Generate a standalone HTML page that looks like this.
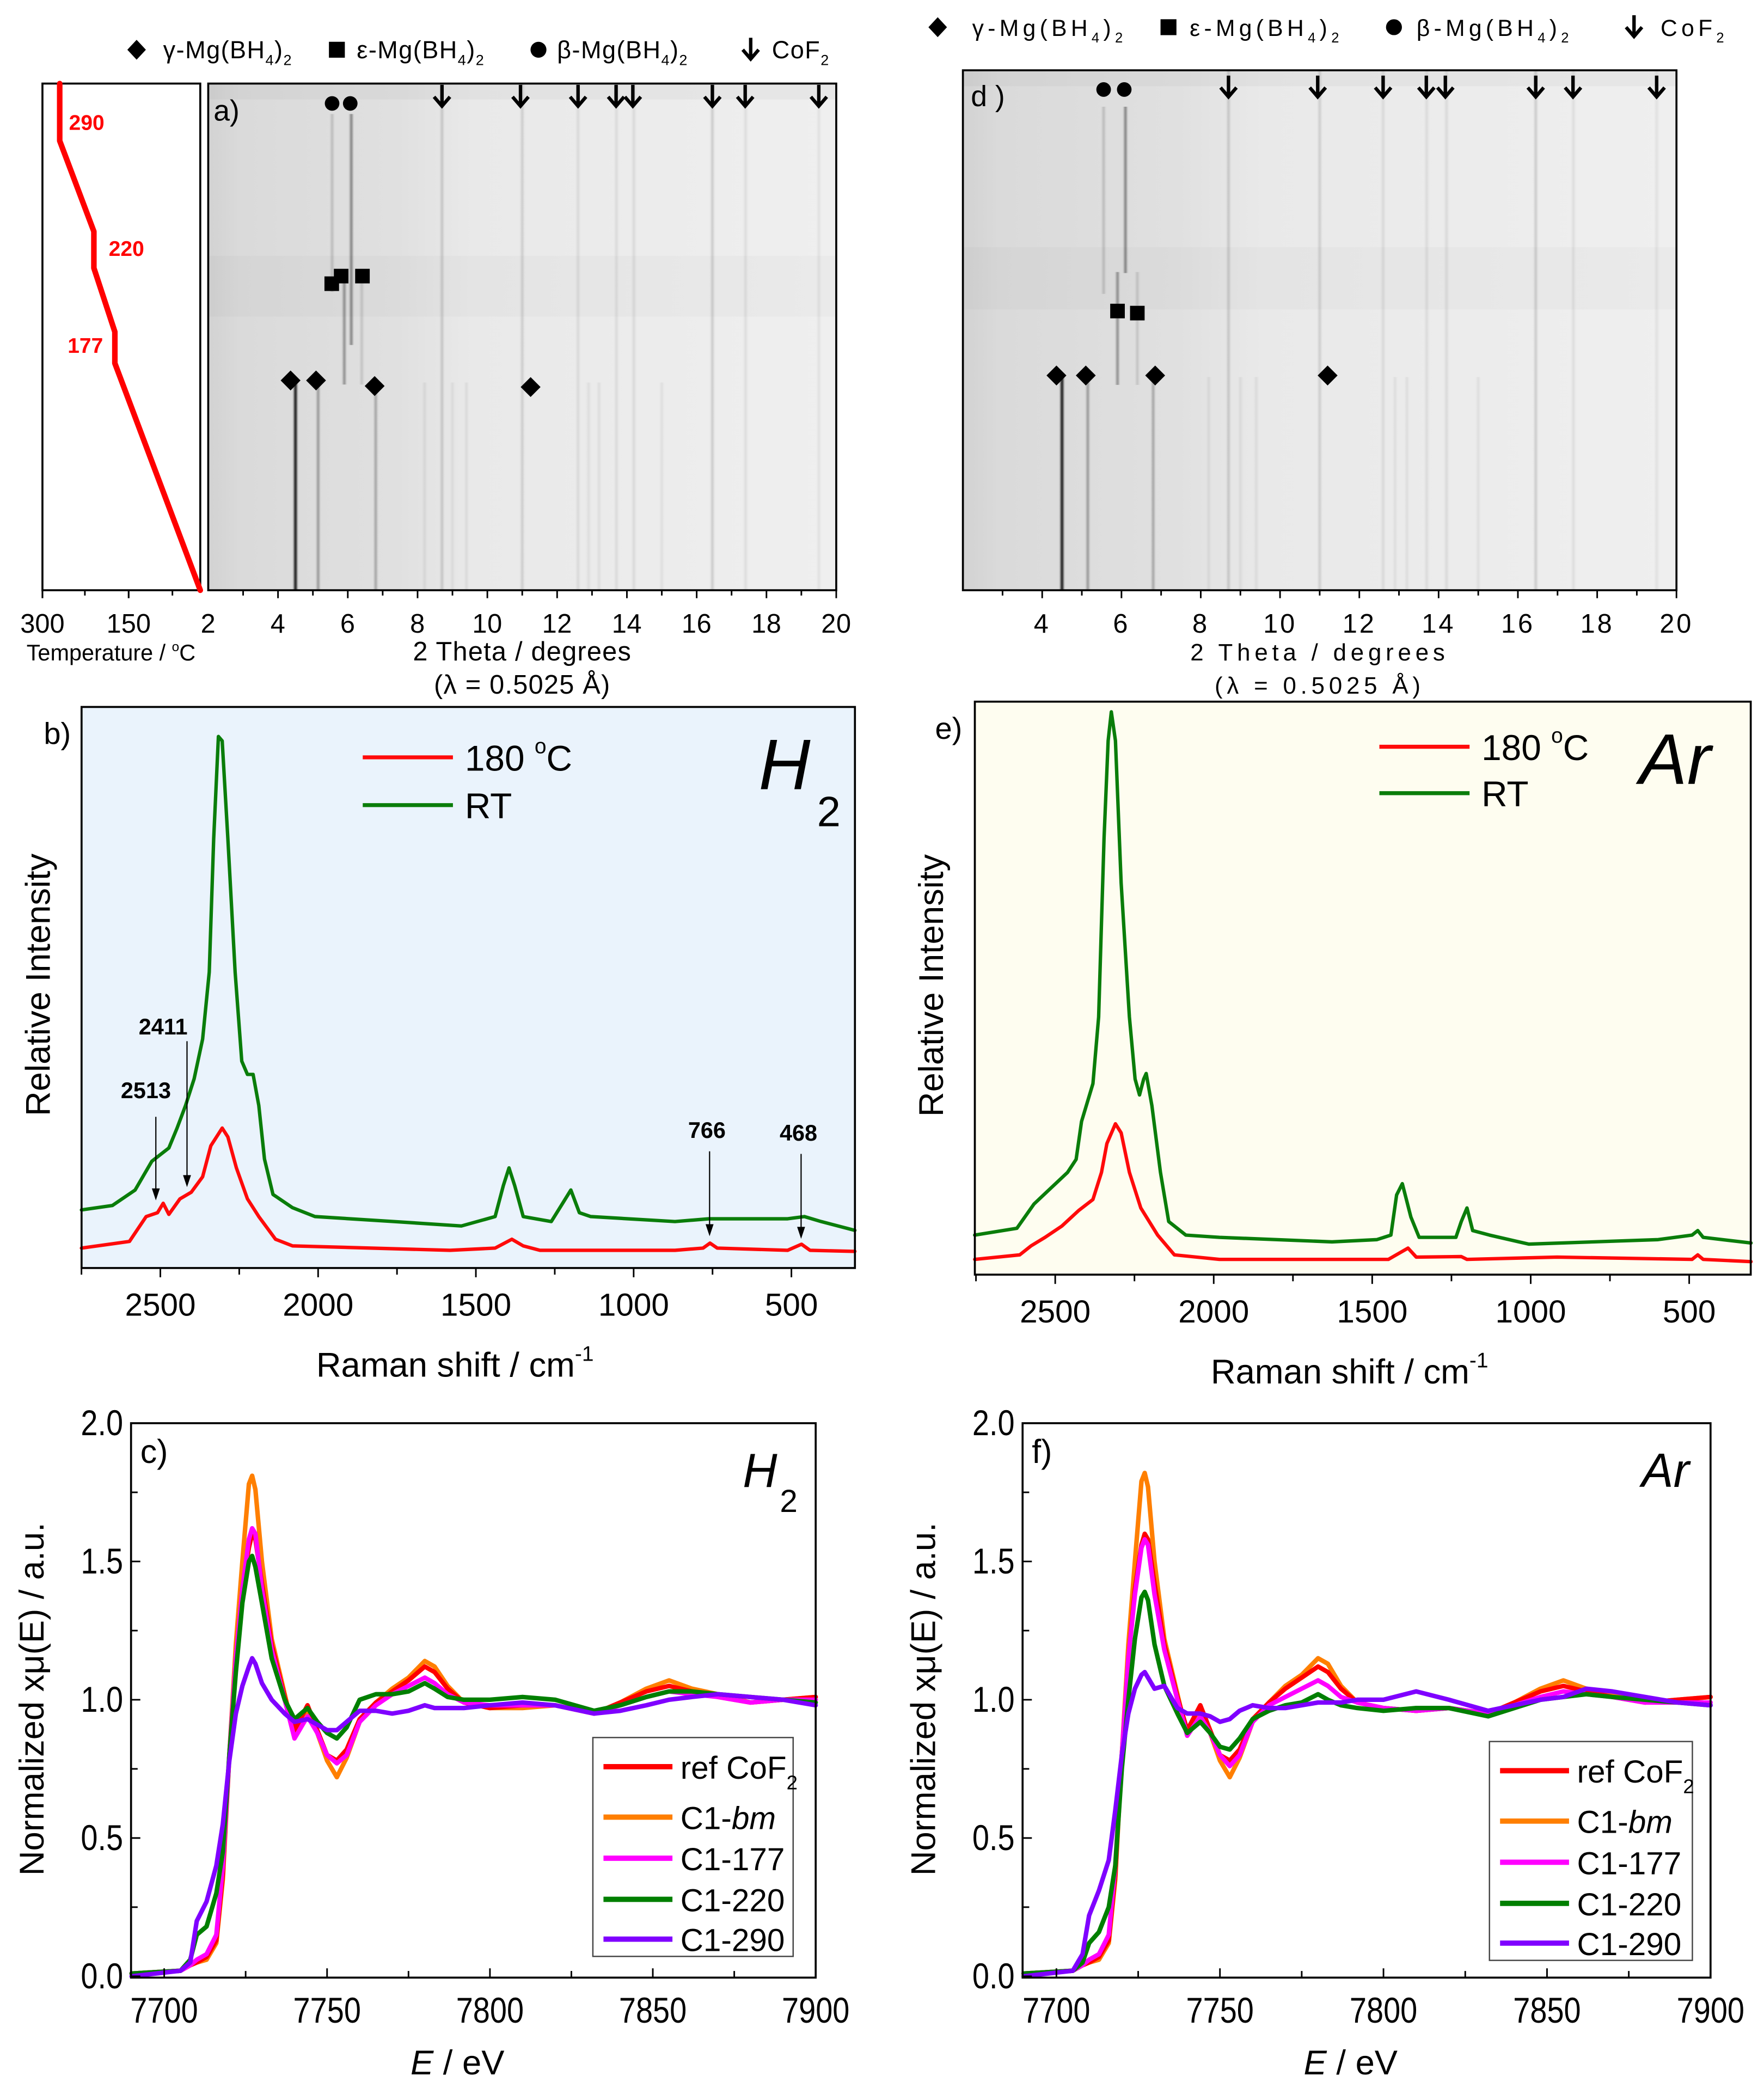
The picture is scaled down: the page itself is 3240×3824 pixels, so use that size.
<!DOCTYPE html>
<html><head><meta charset="utf-8"><style>
html,body{margin:0;padding:0;background:#fff;}
svg{display:block;}
text{font-family:"Liberation Sans",sans-serif;}
</style></head><body>
<svg id="fig" xmlns="http://www.w3.org/2000/svg" width="3240" height="3824" viewBox="0 0 1330 1569.7" preserveAspectRatio="none">
<defs>
<linearGradient id="gA" x1="0" x2="1" y1="0" y2="0"><stop offset="0" stop-color="#d2d2d2"/><stop offset="0.05" stop-color="#dadada"/><stop offset="0.3" stop-color="#e0e0e0"/><stop offset="0.42" stop-color="#e9e9e9"/><stop offset="1" stop-color="#efefef"/></linearGradient>
<filter id="blur" x="-50%" y="-5%" width="200%" height="110%"><feGaussianBlur stdDeviation="0.7 0"/></filter>
</defs>
</svg>
<script>
// ---------- data ----------
const tempHold = [2, 177, 177, 220, 220, 290, 290];
const tempTime = [0, 44.8, 51, 63.6, 70.8, 88.7, 100];
const tempTicks = [300, 150];
const xrdTicksA = [2,4,6,8,10,12,14,16,18,20];
const xrdTicksD = [4,6,8,10,12,14,16,18,20];
const xrdPosA = [4.5, 5.15, 6.8, 5.9, 6.1, 5.55, 6.4, 8.7, 11.0, 12.6, 13.7, 14.2, 16.45, 17.4, 19.5, 8.2, 9.0, 9.4, 12.9, 13.2, 15.0];
const xrdTopA = [41.4, 41.4, 41.4, 62.8, 94, 94, 61.5, 100,100,100,100,100,100,100,100, 41,41,41,41,41,41];
const xrdBotA = [0, 0, 0, 40.6, 48.4, 58.9, 40.6, 0,0,0,0,0,0,0,0, 0,0,0,0,0,0];
const xrdDarkA = [0.85, 0.3, 0.25, 0.35, 0.4, 0.15, 0.12, 0.14,0.12,0.08,0.07,0.08,0.14,0.07,0.06, 0.06,0.06,0.06,0.06,0.06,0.06];
const xrdTopD = [41.3, 41.3, 41.3, 61.2, 93, 93, 61.2, 100,100,100,100,100,100,100,100, 41,41,41,41,41,41];
const xrdBotD = [0, 0, 0, 39.5, 61, 57, 39.5, 0,0,0,0,0,0,0,0, 0,0,0,0,0,0];
const circA = [5.55, 6.07], sqA = [5.54, 5.81, 6.42], sqAy = [60.5, 62, 62], diaA = [4.36, 5.09, 6.77, 11.24], diaAy = [41.4, 41.4, 40.3, 40.1];
const arrows = [8.7, 10.95, 12.6, 13.69, 14.17, 16.45, 17.39, 19.5];
const circD = [5.55, 6.07], sqD = [5.9, 6.4], diaD = [4.36, 5.1, 6.85, 11.2];
const bGreenX = [2750,2652,2580,2527,2473,2447,2420,2393,2366,2345,2331,2316,2304,2286,2263,2242,2224,2206,2188,2170,2143,2081,2010,1760,1546,1439,1413,1395,1377,1350,1261,1225,1199,1172,1136,869,762,512,459,406,299];
const bGreenY = [10.5,11.3,14.1,19.3,21.7,25.3,29.4,34.2,41.4,53.5,77.6,96.1,95.3,77.6,53.5,37.4,35.0,35.0,29.4,19.7,13.3,10.9,9.3,8.4,7.6,9.3,14.9,18.1,14.9,9.3,8.4,11.7,14.1,10.0,9.3,8.4,8.9,8.9,9.3,8.4,6.8];
const bRedX = [2750,2598,2545,2509,2491,2473,2438,2402,2366,2340,2322,2304,2286,2259,2224,2188,2135,2081,1582,1439,1386,1350,1297,869,780,758,735,512,468,441,299];
const bRedY = [3.6,4.8,9.3,10.0,11.7,9.7,12.5,13.7,16.5,22.1,23.7,25.3,23.7,18.1,12.5,9.3,5.2,4.0,3.2,3.6,5.2,4.0,3.2,3.2,3.6,4.5,3.6,3.2,4.3,3.2,3.0];
const eGreenX = [2754,2621,2567,2514,2461,2434,2417,2381,2363,2346,2333,2323,2310,2292,2266,2248,2234,2221,2213,2195,2168,2142,2088,1982,1627,1485,1441,1423,1405,1378,1352,1236,1219,1201,1183,1130,1006,598,491,473,456,305];
const eGreenY = [7.0,8.2,12.5,15.3,18.1,20.4,27.1,33.8,45.6,77.2,94.5,99.6,94.5,69.3,45.6,34.6,31.8,34.6,35.6,29.9,18.1,9.4,7.0,6.6,5.8,6.2,7.0,14.1,16.1,10.2,6.6,6.6,9.4,11.8,7.8,7.0,5.4,6.2,7.0,7.8,6.6,5.6];
const eRedX = [2754,2612,2576,2532,2479,2425,2381,2354,2337,2310,2292,2266,2230,2177,2124,1982,1449,1387,1361,1219,1201,917,491,473,456,305];
const eRedY = [2.7,3.5,5.1,6.6,8.6,11.4,13.3,18.1,23.2,26.7,25.1,18.1,11.8,7.0,3.5,2.7,2.7,4.7,3.1,3.2,2.7,3.1,2.7,3.5,2.7,2.3];
const ramanTicks = [2500, 2000, 1500, 1000, 500];
const xasE = [7690,7705,7708,7710,7713,7716,7718,7720,7722,7724,7726,7727,7728,7730,7733,7737,7740,7744,7747,7750,7753,7756,7760,7765,7770,7775,7780,7783,7787,7792,7800,7810,7820,7832,7840,7848,7855,7862,7870,7880,7890,7900];
const cOrange = [.01,.02,.04,.05,.06,.12,.35,.8,1.2,1.5,1.78,1.81,1.76,1.5,1.22,1.02,.87,.96,.88,.78,.72,.79,.92,.99,1.04,1.08,1.14,1.12,1.05,.99,.97,.97,.98,.95,.99,1.04,1.07,1.04,1.02,.99,1.0,1.01];
const cRed = [.01,.02,.04,.05,.07,.13,.37,.8,1.15,1.4,1.55,1.6,1.58,1.42,1.2,1.01,.89,.98,.89,.80,.78,.82,.93,.99,1.03,1.07,1.12,1.1,1.04,.99,.97,.98,.98,.95,.99,1.03,1.05,1.03,1.01,.99,1.0,1.01];
const cMagenta = [.01,.02,.04,.06,.08,.15,.4,.8,1.15,1.4,1.58,1.62,1.6,1.4,1.18,1.0,.86,.94,.88,.80,.77,.80,.92,.98,1.02,1.05,1.08,1.06,1.02,.99,.98,.98,.98,.95,.98,1.01,1.03,1.02,1.01,.99,1.0,1.0];
const cGreen = [.01,.02,.06,.15,.18,.3,.45,.8,1.1,1.35,1.5,1.52,1.48,1.35,1.15,1.0,.93,.97,.92,.88,.86,.9,1.0,1.02,1.02,1.03,1.06,1.04,1.01,1.0,1.0,1.01,1.0,.96,.98,1.01,1.03,1.03,1.02,1.01,1.0,.99];
const cPurple = [.0,.02,.05,.2,.27,.4,.55,.78,.95,1.05,1.12,1.15,1.13,1.06,1.0,.95,.92,.93,.91,.89,.89,.92,.96,.96,.95,.96,.98,.97,.97,.97,.98,.99,.98,.95,.96,.98,1.0,1.01,1.02,1.01,1.0,.98];
const fOrange = [.01,.02,.04,.05,.06,.12,.35,.8,1.2,1.5,1.79,1.82,1.77,1.5,1.22,1.02,.87,.97,.88,.78,.72,.79,.92,.99,1.05,1.09,1.15,1.13,1.05,.99,.97,.96,.97,.95,.99,1.04,1.07,1.04,1.02,.99,1.0,1.01];
const fRed = [.01,.02,.04,.05,.07,.13,.37,.8,1.15,1.4,1.56,1.6,1.58,1.42,1.2,1.01,.89,.98,.89,.80,.78,.82,.93,.99,1.04,1.08,1.12,1.1,1.04,.99,.97,.96,.97,.95,.99,1.03,1.05,1.03,1.01,.99,1.0,1.01];
const fMagenta = [.01,.02,.04,.06,.08,.15,.4,.8,1.15,1.38,1.55,1.58,1.56,1.38,1.18,1.0,.87,.94,.88,.80,.76,.80,.92,.98,1.01,1.04,1.07,1.05,1.01,.99,.97,.96,.97,.95,.98,1.01,1.03,1.02,1.01,.99,.99,.99];
const fGreen = [.01,.02,.05,.12,.16,.25,.4,.75,1.0,1.22,1.37,1.39,1.36,1.2,1.05,.95,.88,.92,.88,.83,.82,.86,.93,.96,.98,.99,1.02,1.0,.98,.97,.96,.97,.97,.94,.97,1.0,1.01,1.02,1.01,1.0,.99,.98];
const fPurple = [.0,.02,.08,.22,.31,.42,.6,.8,.95,1.04,1.09,1.10,1.08,1.04,1.05,.97,.95,.95,.94,.92,.93,.96,.98,.97,.97,.98,.99,.99,.99,1.0,1.0,1.03,1.0,.96,.98,1.0,1.01,1.04,1.03,1.01,.99,.98];
const xasTicksX = [7700, 7750, 7800, 7850, 7900];
const xasTicksY = [0, 0.5, 1.0, 1.5, 2.0];
const xasNames = ['ref CoF2','C1-bm','C1-177','C1-220','C1-290'];
const xasColors = ['#ff0000','#ff7f00','#ff00ff','#007f00','#7f00ff'];

// ---------- helpers ----------
const NS = 'http://www.w3.org/2000/svg';
const svg = document.getElementById('fig');
function mk(tag, attrs, parent) {
  const e = document.createElementNS(NS, tag);
  for (const k in attrs) e.setAttribute(k, attrs[k]);
  (parent || svg).appendChild(e);
  return e;
}
function txt(s, x, y, size, opts, parent) {
  const t = mk('text', Object.assign({x: x, y: y, 'font-size': size}, opts || {}), parent);
  t.textContent = s;
  return t;
}
function lin(d0, d1, r0, r1) { return v => r0 + (v - d0) * (r1 - r0) / (d1 - d0); }
function poly(xs, ys, fx, fy, color, w, parent) {
  const pts = xs.map((v, i) => fx(v).toFixed(2) + ',' + fy(ys[i]).toFixed(2)).join(' ');
  return mk('polyline', {points: pts, fill: 'none', stroke: color, 'stroke-width': w, 'stroke-linejoin': 'round', 'stroke-linecap': 'round'}, parent);
}

// ---------- legend rows (top) ----------
function topLegend(y, xs, spacing, size, name) {
  const g = mk('g', {});
  
  
  const ls = {'letter-spacing': spacing};
  const labels = [['γ-Mg(BH', xs[1]], ['ε-Mg(BH', xs[3]], ['β-Mg(BH', xs[5]]];
  mk('path', {d: `M${xs[0]},${y-7.5} l7,7.5 l-7,7.5 l-7,-7.5z`, fill: '#000'}, g);
  mk('rect', {x: xs[2]-6, y: y-6, width: 12, height: 12, fill: '#000'}, g);
  mk('circle', {cx: xs[4], cy: y, r: 6, fill: '#000'}, g);
  labels.forEach(l => {
    const t = txt(l[0], l[1], y + 6.5, size, ls, g);
    const a = mk('tspan', {'font-size': size * 0.6, dy: 5}, t); a.textContent = '4';
    const b = mk('tspan', {dy: -5}, t); b.textContent = ')';
    const c = mk('tspan', {'font-size': size * 0.6, dy: 5}, t); c.textContent = '2';
  });
  drawArrow(xs[6], y - 9, g);
  const t4 = txt('CoF', xs[7], y + 6.5, size, ls, g);
  const w1 = mk('tspan', {'font-size': size * 0.6, dy: 5}, t4); w1.textContent = '2';
}
function drawArrow(x, ytop, parent) {
  mk('path', {d: `M${x},${ytop} v15 M${x-6},${ytop+9} L${x},${ytop+16} L${x+6},${ytop+9}`, stroke: '#000', 'stroke-width': 2.6, fill: 'none'}, parent);
}
topLegend(37.5, [103, 123, 254, 269, 406, 420, 566, 582], 0.6, 18.5, 'legend-left');
topLegend(20.5, [707, 733, 881, 897, 1051, 1068, 1232, 1252], 3, 17.5, 'legend-right');

// ---------- temperature panel ----------
(function () {
  const g = mk('g', {});
  
  
  const fx = T => 151 - (T - 2) * 0.368;
  const fy = t => 445 - t * 3.82;
  mk('rect', {x: 32, y: 63, width: 119, height: 382, fill: '#fff', stroke: '#000', 'stroke-width': 1.5}, g);
  const c = poly(tempHold, tempTime, fx, fy, '#ff0000', 4.2, g);
  
  
  txt('290', 52, 98, 16, {fill: '#ff0000', 'font-weight': 'bold'}, g);
  txt('220', 82, 193, 16, {fill: '#ff0000', 'font-weight': 'bold'}, g);
  txt('177', 51, 266, 16, {fill: '#ff0000', 'font-weight': 'bold'}, g);
  const tx = [32, 97];
  tempTicks.forEach((T, i) => {
    mk('line', {x1: tx[i], x2: tx[i], y1: 445, y2: 451, stroke: '#000', 'stroke-width': 1.3}, g);
    txt(String(T), tx[i], 477, 20, {'text-anchor': 'middle'}, g);
  });
  [64, 130].forEach(x => mk('line', {x1: x, x2: x, y1: 445, y2: 449, stroke: '#000', 'stroke-width': 1.2}, g));
  const tt = txt('Temperature / ', 20, 498, 17, {}, g);
  const ts = mk('tspan', {'font-size': 10, dy: -7}, tt); ts.textContent = 'o';
  const ts2 = mk('tspan', {dy: 7}, tt); ts2.textContent = 'C';
})();

// ---------- XRD panels ----------
function xrdPanel(name, x0, x1, y0, y1, tops, bots, ticks, label, lx, ly, markers, spacing, tsize) {
  const g = mk('g', {});
  
  
  const fx = lin(2, 20, x0, x1);
  const fy = t => y1 - t * (y1 - y0) / 100;
  mk('rect', {x: x0, y: y0, width: x1 - x0, height: y1 - y0, fill: 'url(#gA)'}, g);
  mk('rect', {x: x0, y: fy(66), width: x1 - x0, height: fy(54) - fy(66), fill: '#000', opacity: 0.018}, g);
  mk('rect', {x: x0, y: y0, width: x1 - x0, height: 12, fill: '#000', opacity: 0.03}, g);
  const lg = mk('g', {filter: 'url(#blur)'}, g);
  xrdPosA.forEach((p, i) => {
    const l = mk('line', {x1: fx(p), x2: fx(p), y1: fy(tops[i]), y2: fy(bots[i]), stroke: '#000', 'stroke-opacity': xrdDarkA[i], 'stroke-width': i === 0 ? 2.2 : 2}, lg);
    
    
  });
  mk('rect', {x: x0, y: y0, width: x1 - x0, height: y1 - y0, fill: 'none', stroke: '#000', 'stroke-width': 1.5}, g);
  for (let v = 3; v <= 20; v++) {
    const major = v % 2 === 0;
    mk('line', {x1: fx(v), x2: fx(v), y1: y1, y2: y1 + (major ? 6 : 4), stroke: '#000', 'stroke-width': 1.2}, g);
  }
  ticks.forEach(v => txt(String(v), fx(v), y1 + 32, 20, {'text-anchor': 'middle', 'letter-spacing': spacing / 2}, g));
  const cx = (x0 + x1) / 2;
  txt('2 Theta / degrees', cx, y1 + 53, tsize, {'text-anchor': 'middle', 'letter-spacing': spacing}, g);
  txt('(λ = 0.5025 Å)', cx, y1 + 78, tsize, {'text-anchor': 'middle', 'letter-spacing': spacing}, g);
  txt(label, lx, ly, 22, {}, g);
  markers.circ.forEach(p => { const m = mk('circle', {cx: fx(p), cy: markers.circY, r: 5.5, fill: '#000'}, g);   });
  markers.sq.forEach((p, i) => { const m = mk('rect', {x: fx(p) - 5.5, y: fy(markers.sqY[i]) - 5.5, width: 11, height: 11, fill: '#000'}, g);   });
  markers.dia.forEach((p, i) => { const x = fx(p), y = fy(markers.diaY[i]); const m = mk('path', {d: `M${x},${y-7.5} l7.5,7.5 l-7.5,7.5 l-7.5,-7.5z`, fill: '#000'}, g);   });
  arrows.forEach(p => drawArrow(fx(p), markers.arrY, g));
}
xrdPanel('xrd-panel-a', 157, 630.5, 63, 445, xrdTopA, xrdBotA, xrdTicksA, 'a)', 161, 91, {circ: circA, circY: 78, sq: sqA, sqY: sqAy, dia: diaA, diaY: diaAy, arrY: 64}, 0.5, 20);
xrdPanel('xrd-panel-d', 726, 1264, 53, 445, xrdTopD, xrdBotD, xrdTicksD, 'd )', 732, 80, {circ: circD, circY: 67.5, sq: sqD, sqY: [53.7, 53.3], dia: diaD, diaY: [41.3, 41.3, 41.3, 41.3], arrY: 57}, 3.2, 18);

// ---------- Raman panels ----------
function ramanPanel(name, x0, x1, y0, y1, bg, v2500, v500, gx, gy, rx, ry, label, lx, gas, gasX, sub, legX, legY1, legY2) {
  const g = mk('g', {});
  
  
  const fx = lin(2500, 500, v2500, v500);
  const fy = I => y1 - I * (y1 - y0 - 6) / 100;
  mk('rect', {x: x0, y: y0, width: x1 - x0, height: y1 - y0, fill: bg}, g);
  const gl = poly(gx, gy, fx, fy, '#0a7d0a', 2.6, g);
  
  
  const rl = poly(rx, ry, fx, fy, '#ff0a0a', 2.6, g);
  
  
  mk('rect', {x: x0, y: y0, width: x1 - x0, height: y1 - y0, fill: 'none', stroke: '#000', 'stroke-width': 1.5}, g);
  for (let v = 2750; v >= 300; v -= 250) {
    const major = v % 500 === 0;
    mk('line', {x1: fx(v), x2: fx(v), y1: y1, y2: y1 + (major ? 7 : 5), stroke: '#000', 'stroke-width': 1.2}, g);
  }
  ramanTicks.forEach(v => txt(String(v), fx(v), y1 + 36, 24, {'text-anchor': 'middle'}, g));
  const tt = txt('Raman shift / cm', (x0 + x1) / 2 - 10, y1 + 82, 26, {'text-anchor': 'middle'}, g);
  const sp = mk('tspan', {'font-size': 16, dy: -12}, tt); sp.textContent = '-1';
  const yl = txt('Relative Intensity', 0, 0, 26, {'text-anchor': 'middle', transform: `translate(${x0 - 24},${(y0 + y1) / 2 - 2}) rotate(-90)`}, g);
  
  
  txt(label, lx, y0 + 28, 23, {}, g);
  mk('line', {x1: legX, x2: legX + 68, y1: legY1, y2: legY1, stroke: '#ff0a0a', 'stroke-width': 3}, g);
  mk('line', {x1: legX, x2: legX + 68, y1: legY2, y2: legY2, stroke: '#0a7d0a', 'stroke-width': 3}, g);
  const l1 = txt('180 ', legX + 77, legY1 + 10, 27, {}, g);
  const l1s = mk('tspan', {'font-size': 16, dy: -13}, l1); l1s.textContent = 'o';
  const l1c = mk('tspan', {dy: 13}, l1); l1c.textContent = 'C';
  txt('RT', legX + 77, legY2 + 10, 27, {}, g);
  const gt = txt(gas, gasX, y0 + 62, 54, {'font-style': 'italic'}, g);
  
  
  if (sub) txt(sub, gasX + 44, y0 + 90, 32, {}, g);
  return {g: g, fx: fx, fy: fy};
}
const pb = ramanPanel('raman-panel-b', 61.5, 644.6, 533, 956, '#eaf3fc', 120.9, 596.7, bGreenX, bGreenY, bRedX, bRedY, 'b)', 33, 'H', 572, '2', 273.5, 571, 607);
[['2513', 110, 828, 117.5, 842, 905], ['2411', 123, 780, 141, 785, 895], ['766', 533, 858, 535, 868, 932], ['468', 602, 860, 604, 870, 934]].forEach(a => {
  const t = txt(a[0], a[1], a[2], 17, {'text-anchor': 'middle', 'font-weight': 'bold'}, pb.g);
  
  
  mk('line', {x1: a[3], x2: a[3], y1: a[4], y2: a[5] - 7, stroke: '#000', 'stroke-width': 0.9}, pb.g);
  mk('path', {d: `M${a[3]-3},${a[5]-9} L${a[3]},${a[5]} L${a[3]+3},${a[5]-9}z`, fill: '#000'}, pb.g);
});
ramanPanel('raman-panel-e', 735, 1320, 529, 961, '#fefdf0', 795.6, 1273.6, eGreenX, eGreenY, eRedX, eRedY, 'e)', 705, 'Ar', 1236, '', 1040, 563, 598);

// ---------- XANES panels ----------
function xasPanel(name, x0, x1, y0, y1, e7700, e7900, series, label, gas, sub, legBox) {
  const g = mk('g', {});
  
  
  const fx = lin(7700, 7900, e7700, e7900);
  const fy = lin(0, 2, 1490, 1073);
  [1, 0, 2, 3, 4].forEach(i => {
    const l = poly(xasE, series[i], fx, fy, xasColors[i], 3.4, g);
    
    
  });
  mk('rect', {x: x0, y: y0, width: x1 - x0, height: y1 - y0, fill: 'none', stroke: '#000', 'stroke-width': 1.5}, g);
  for (let v = 7700; v <= 7900; v += 25) {
    const major = v % 50 === 0;
    mk('line', {x1: fx(v), x2: fx(v), y1: y1, y2: y1 - (major ? 7 : 5), stroke: '#000', 'stroke-width': 1.2}, g);
  }
  for (let v = 0; v <= 2.001; v += 0.25) {
    const major = Math.abs(v * 2 - Math.round(v * 2)) < 1e-6;
    mk('line', {x1: x0, x2: x0 + (major ? 7 : 5), y1: fy(v), y2: fy(v), stroke: '#000', 'stroke-width': 1.2}, g);
  }
  xasTicksX.forEach(v => txt(String(v), 0, 0, 27, {'text-anchor': 'middle', transform: `translate(${fx(v)},1525) scale(0.85,1)`}, g));
  xasTicksY.forEach(v => txt(v.toFixed(1), 0, 0, 27, {'text-anchor': 'end', transform: `translate(${x0 - 6},${fy(v) + 9}) scale(0.85,1)`}, g));
  const xt = txt('', (x0 + x1) / 2 - 12, 1564, 26, {'text-anchor': 'middle'}, g);
  const xe = mk('tspan', {'font-style': 'italic'}, xt); xe.textContent = 'E';
  const xr = mk('tspan', {}, xt); xr.textContent = ' / eV';
  const yl = txt('Normalized xμ(E) / a.u.', 0, 0, 26, {'text-anchor': 'middle', transform: `translate(${x0 - 66},${1281}) rotate(-90)`}, g);
  
  
  txt(label, x0 + 7, 1103, 25, {}, g);
  txt(gas, x1 - (sub ? 55 : 52), 1121, 36, {'font-style': 'italic'}, g);
  if (sub) txt(sub, x1 - 27, 1140, 24, {}, g);
  const lg = mk('g', {}, g);
  
  
  mk('rect', {x: legBox[0], y: legBox[1], width: legBox[2], height: legBox[3], fill: '#fff', stroke: '#444', 'stroke-width': 1}, lg);
  xasNames.forEach((n, i) => {
    const yy = legBox[4][i];
    mk('line', {x1: legBox[0] + 8, x2: legBox[0] + 60, y1: yy, y2: yy, stroke: xasColors[i], 'stroke-width': 4}, lg);
    let t;
    if (i === 0) {
      t = txt('ref CoF', legBox[0] + 66, yy + 9, 24, {}, lg);
      const s = mk('tspan', {'font-size': 15, dy: 8}, t); s.textContent = '2';
    } else if (i === 1) {
      t = txt('C1-', legBox[0] + 66, yy + 9, 24, {}, lg);
      const s = mk('tspan', {'font-style': 'italic'}, t); s.textContent = 'bm';
    } else {
      t = txt(n, legBox[0] + 66, yy + 9, 24, {}, lg);
    }
    
    
  });
}
xasPanel('xanes-panel-c', 98.8, 615, 1073, 1491, 123.8, 615, [cRed, cOrange, cMagenta, cGreen, cPurple], 'c)', 'H', '2', [447, 1310, 151, 165, [1332, 1370, 1401, 1432, 1462]]);
xasPanel('xanes-panel-f', 771, 1289.7, 1073, 1491, 796.5, 1289.7, [fRed, fOrange, fMagenta, fGreen, fPurple], 'f)', 'Ar', '', [1123, 1313, 153, 165, [1335, 1373, 1404, 1435, 1465]]);
</script>
</body></html>
